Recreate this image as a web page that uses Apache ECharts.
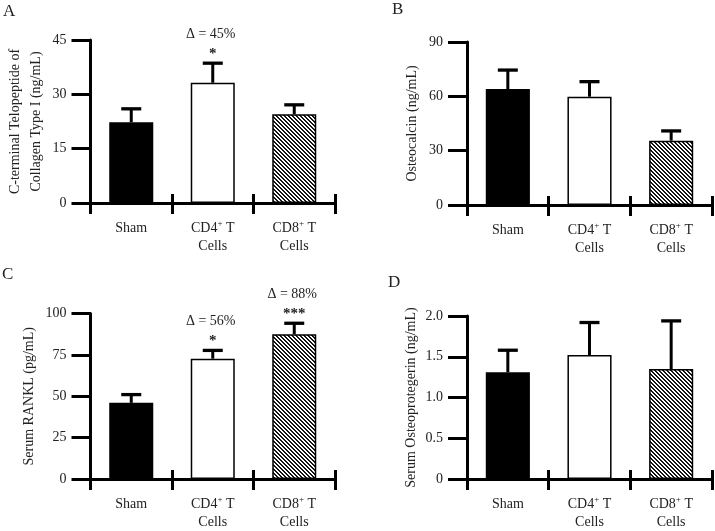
<!DOCTYPE html>
<html>
<head>
<meta charset="utf-8">
<script src="https://cdn.jsdelivr.net/npm/echarts@6/dist/echarts.min.js"></script>
<style>
html,body{margin:0;padding:0;background:#fff;}
#chart{width:715px;height:531px;}
</style>
</head>
<body>
<div id="chart"></div>
<script>
// ---- data ----
const categories = ['Sham', 'CD4+ T\nCells', 'CD8+ T\nCells'];

const aMean = [22.3, 33.2, 24.5];
const aErr  = [3.7, 5.4, 2.6];
const aDelta = ['', 'Δ = 45%', ''];
const aStars = ['', '*', ''];

const bMean = [64.0, 59.8, 35.5];
const bErr  = [10.5, 8.3, 5.4];
const bDelta = ['', '', ''];
const bStars = ['', '', ''];

const cMean = [46.0, 72.7, 87.5];
const cErr  = [5.0, 5.0, 6.6];
const cDelta = ['', 'Δ = 56%', 'Δ = 88%'];
const cStars = ['', '*', '***'];

const dMean = [1.31, 1.52, 1.35];
const dErr  = [0.27, 0.40, 0.59];
const dDelta = ['', '', ''];
const dStars = ['', '', ''];

const aTicks = {min: 0, max: 45, interval: 15};
const bTicks = {min: 0, max: 90, interval: 30};
const cTicks = {min: 0, max: 100, interval: 25};
const dTicks = {min: 0, max: 2.0, interval: 0.5};

const panelLetters = ['A', 'B', 'C', 'D'];
const yNames = [
  'C-terminal Telopeptide of\nCollagen Type I (ng/mL)',
  'Osteocalcin (ng/mL)',
  'Serum RANKL (pg/mL)',
  'Serum Osteoprotegerin (ng/mL)'
];

// ---- styling ----
const FONT = '"Liberation Serif", "Times New Roman", serif';
const TXT = '#222';

function hatchPattern() {
  const c = document.createElement('canvas');
  c.width = 4; c.height = 4;
  const ctx = c.getContext('2d');
  const img = ctx.createImageData(4, 4);
  for (let y = 0; y < 4; y++) {
    for (let x = 0; x < 4; x++) {
      const k = ((x - y) % 4 + 4) % 4;
      const v = (k === 0 || k === 1) ? 20 : 255;
      const p = (y * 4 + x) * 4;
      img.data[p] = v; img.data[p+1] = v; img.data[p+2] = v; img.data[p+3] = 255;
    }
  }
  ctx.putImageData(img, 0, 0);
  return c;
}
const hatch = {image: hatchPattern(), repeat: 'repeat'};

const barStyles = [
  {color: '#000', borderColor: '#000', borderWidth: 1.5},
  {color: '#fff', borderColor: '#000', borderWidth: 1.5},
  {color: hatch, borderColor: '#000', borderWidth: 1.5}
];

const grids = [
  {left: 90.5, top: 40, right: 380, bottom: 328},
  {left: 467, top: 42, right: 3, bottom: 326},
  {left: 90.5, top: 313.5, right: 380, bottom: 51},
  {left: 467, top: 316, right: 3, bottom: 50.5}
];
const nameGaps = [44, 44, 51, 45];
const ticksList = [aTicks, bTicks, cTicks, dTicks];
const panels = [
  [aMean, aErr, aDelta, aStars],
  [bMean, bErr, bDelta, bStars],
  [cMean, cErr, cDelta, cStars],
  [dMean, dErr, dDelta, dStars]
];
const letterPos = [[3, 3], [392, 1], [2, 266], [388, 274]];

const xAxes = [], yAxes = [], series = [], titles = [];
for (let k = 0; k < 4; k++) {
  xAxes.push({
    type: 'category', gridIndex: k, data: categories,
    boundaryGap: true,
    axisLine: {show: true, lineStyle: {color: '#000', width: 3}},
    axisTick: {show: true, inside: false, interval: 0, length: 11, lineStyle: {color: '#000', width: 3}},
    axisLabel: {
      interval: 0, hideOverlap: false,
      margin: 16, color: TXT, fontFamily: FONT, fontSize: 14, lineHeight: 18,
      formatter: v => v.replace('+', '{sup|+}'),
      rich: {sup: {fontSize: 9, fontFamily: FONT, color: TXT, verticalAlign: 'top', lineHeight: 10}}
    },
    splitLine: {show: false}
  });
  xAxes.push({
    type: 'category', gridIndex: k, data: categories, position: 'bottom',
    boundaryGap: true,
    axisLine: {show: false},
    axisTick: {show: true, inside: true, interval: 0, length: 9, lineStyle: {color: '#000', width: 3}},
    axisLabel: {show: false},
    splitLine: {show: false}
  });
  const t = ticksList[k];
  yAxes.push({
    type: 'value', gridIndex: k, min: t.min, max: t.max, interval: t.interval,
    axisLine: {show: true, lineStyle: {color: '#000', width: 3}},
    axisTick: {show: true, inside: false, length: 19, lineStyle: {color: '#000', width: 3}},
    axisLabel: {
      margin: 24, color: TXT, fontFamily: FONT, fontSize: 14,
      formatter: v => (k === 3 ? (v === 0 ? '0' : v.toFixed(1)) : String(v))
    },
    splitLine: {show: false},
    name: yNames[k], nameLocation: 'middle', nameGap: nameGaps[k], nameRotate: 90,
    nameTextStyle: {color: TXT, fontFamily: FONT, fontSize: 14, lineHeight: 21}
  });
  const [mean, err, delta, stars] = panels[k];
  series.push({
    type: 'bar', xAxisIndex: 2 * k, yAxisIndex: k, barWidth: '54%',
    data: mean.map((v, i) => ({value: v, itemStyle: barStyles[i]})),
    z: 2
  });
  series.push({
    type: 'custom', xAxisIndex: 2 * k, yAxisIndex: k, z: 3,
    data: mean.map((v, i) => [i, v, err[i]]),
    renderItem: (params, api) => {
      const i = api.value(0);
      const m = api.value(1);
      const e = api.value(2);
      const base = api.coord([i, m]);
      const top = api.coord([i, m + e]);
      const children = [
        {type: 'line', shape: {x1: top[0], y1: base[1], x2: top[0], y2: top[1]},
         style: {stroke: '#000', lineWidth: 3}},
        {type: 'line', shape: {x1: top[0] - 10, y1: top[1], x2: top[0] + 10, y2: top[1]},
         style: {stroke: '#000', lineWidth: 3.3}}
      ];
      const idx = params.dataIndex;
      if (delta[idx]) {
        children.push({type: 'text', style: {
          text: delta[idx], x: top[0] - 2, y: top[1] - 29,
          textAlign: 'center', textVerticalAlign: 'middle', align: 'center', verticalAlign: 'middle',
          font: '14px ' + FONT, fill: TXT}});
      }
      if (stars[idx]) {
        children.push({type: 'text', style: {
          text: stars[idx], x: top[0], y: top[1] - 9,
          textAlign: 'center', textVerticalAlign: 'middle', align: 'center', verticalAlign: 'middle',
          font: 'bold 15px ' + FONT, fill: TXT}});
      }
      return {type: 'group', children};
    }
  });
  titles.push({
    text: panelLetters[k], left: letterPos[k][0], top: letterPos[k][1], padding: 0,
    textStyle: {color: TXT, fontFamily: FONT, fontSize: 17, fontWeight: 'normal'}
  });
}

const chart = echarts.init(document.getElementById('chart'), null, {renderer: 'canvas'});
chart.setOption({
  backgroundColor: '#fff',
  animation: false,
  title: titles,
  grid: grids,
  xAxis: xAxes,
  yAxis: yAxes,
  series: series
});
</script>
</body>
</html>
